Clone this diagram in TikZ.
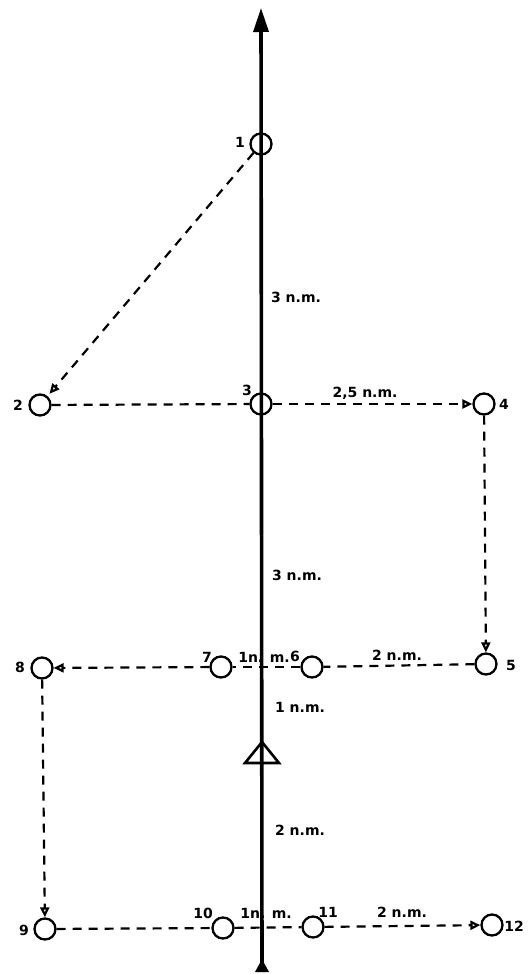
\documentclass[tikz,border=0pt]{standalone}
\usepackage{fontspec}
\setmainfont{DejaVu Sans}
\usetikzlibrary{arrows.meta}
\begin{document}
\begin{tikzpicture}[x=1pt,y=-1pt,
  wp/.style={circle,draw,line width=2.3pt,minimum size=21pt,inner sep=0pt},
  lab/.style={font=\bfseries\fontsize{14}{15}\selectfont,inner sep=0pt},
  dl/.style={line width=2.2pt,dash pattern=on 9pt off 7pt},
  dla/.style={dl,-{Triangle[open,length=10pt,width=9pt,fill=white]}},
  mainline/.style={line width=3.6pt,{Triangle[reversed,length=13pt,width=13pt]}-{Triangle[length=24pt,width=15pt]}},
  trishape/.style={line width=2.6pt}]
\useasboundingbox (0,0) rectangle (528,974);
% main track
\coordinate (bot) at (262,972);
\coordinate (top) at (261,8);
\draw[mainline] (bot) -- (top);
\draw[trishape] (262,742) -- (279,763) -- (245,763) -- cycle;
% waypoints
\node[wp] (c1) at (261,144) {};
\node[wp] (c2) at (40,405) {};
\node[wp] (c3) at (261,404) {};
\node[wp] (c4) at (484,404) {};
\node[wp] (c5) at (486,664) {};
\node[wp] (c6) at (312,667) {};
\node[wp] (c7) at (221,667) {};
\node[wp] (c8) at (42,668) {};
\node[wp] (c9) at (45,929) {};
\node[wp] (c10) at (223,928) {};
\node[wp] (c11) at (313,927) {};
\node[wp] (c12) at (492,925) {};
% numbers
\node[lab] (l1) at (240,142) {1};
\node[lab] (l2) at (18,405) {2};
\node[lab] (l3) at (247,390) {3};
\node[lab] (l4) at (504,404) {4};
\node[lab] (l5) at (511,665) {5};
\node[lab] (l6) at (295,656) {6};
\node[lab] (l7) at (207,657) {7};
\node[lab] (l8) at (20,667) {8};
\node[lab] (l9) at (24,930) {9};
\node[lab] (l10) at (203,913) {10};
\node[lab] (l11) at (328,912) {11};
\node[lab] (l12) at (514,926) {12};
% distances
\node[lab] (d13) at (296,297) {3 n.m.};
\node[lab] (d36) at (297,575) {3 n.m.};
\node[lab] (d34) at (365,393) {2,5 n.m.};
\node[lab] (d56) at (397,655) {2 n.m.};
\node[lab] (d67) at (264,657) {1n. m.};
\node[lab] (d6t) at (300,707) {1 n.m.};
\node[lab] (dt9) at (300,830) {2 n.m.};
\node[lab] (d1011) at (266,913) {1n. m.};
\node[lab] (d1112) at (402,912) {2 n.m.};
% dashed track
\draw[dla,shorten >=3pt] (c1) -- (c2);
\draw[dl] (c2) -- (c3);
\draw[dla] (c3) -- (c4);
\draw[dla] (c4) -- (c5);
\draw[dl] (c5) -- (c6);
\draw[dl] (c6) -- (c7);
\draw[dla] (c7) -- (c8);
\draw[dla] (c8) -- (c9);
\draw[dl] (c9) -- (c10);
\draw[dl] (c10) -- (c11);
\draw[dla] (c11) -- (c12);
\end{tikzpicture}
\end{document}
